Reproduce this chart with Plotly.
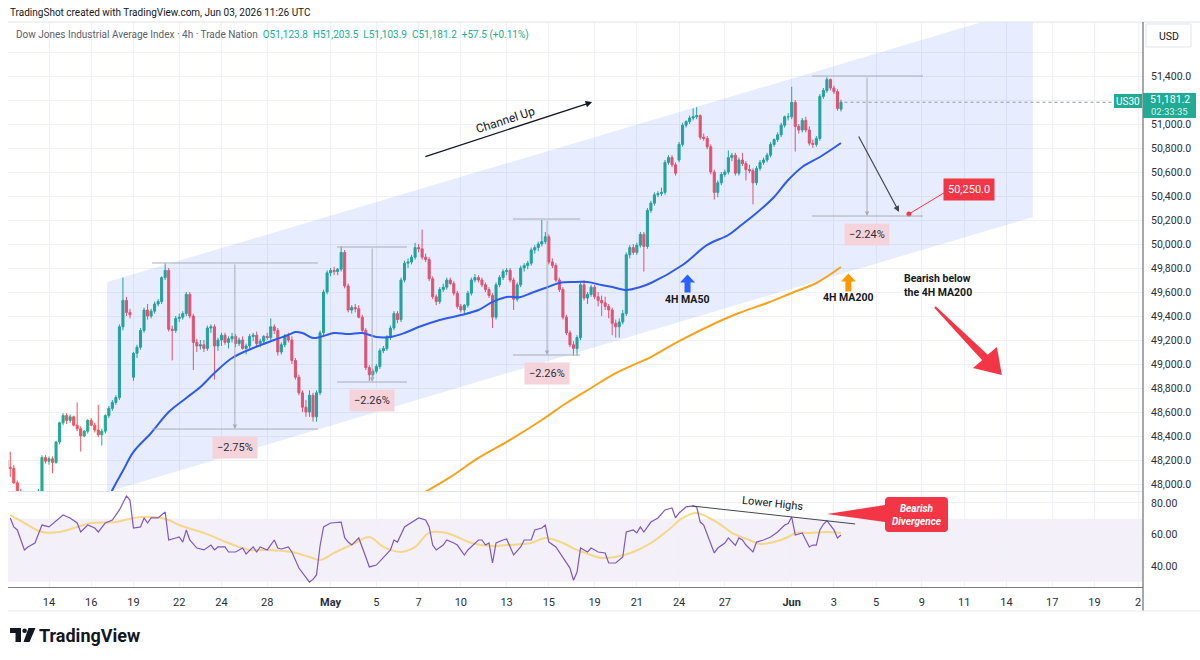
import plotly.graph_objects as go

# ============================ DATA ============================
FIRST_BAR = 1  # bar index of the first 4h candle shown

OPEN = [48200, 48140, 48130, 48010, 47930, 47850, 47880, 47800, 47850, 47880,
        47940, 48220, 48190, 48210, 48180, 48350, 48510, 48570, 48530, 48560,
        48490, 48460, 48400, 48440, 48530, 48490, 48450, 48410, 48440, 48570,
        48630, 48680, 48720, 49310, 49530, 49430, 48890, 49090, 49140, 49280,
        49450, 49400, 49440, 49500, 49520, 49720, 49780, 49290, 49280, 49380,
        49390, 49420, 49580, 49400, 49180, 49150, 49160, 49130, 49300, 49310,
        49150, 49200, 49240, 49180, 49210, 49230, 49170, 49200, 49130, 49150,
        49230, 49240, 49170, 49190, 49230, 49220, 49310, 49280, 49100, 49160,
        49230, 49200, 49030, 48890, 48760, 48640, 48600, 48740, 48560, 48760,
        49260, 49600, 49760, 49780, 49770, 49790, 49930, 49650, 49450, 49470,
        49460, 49390, 49280, 48970, 48910, 48940, 48980, 49110, 49130, 49220,
        49300, 49420, 49370, 49700, 49840, 49850, 49890, 49970, 49960, 49890,
        49870, 49710, 49560, 49520, 49620, 49640, 49700, 49670, 49590, 49480,
        49450, 49490, 49590, 49700, 49720, 49700, 49660, 49620, 49570, 49390,
        49660, 49720, 49770, 49780, 49700, 49540, 49660, 49800, 49820, 49840,
        49950, 49970, 50000, 50020, 50060, 49850, 49820, 49700, 49620, 49390,
        49260, 49160, 49130, 49220, 49660, 49550, 49580, 49640, 49560, 49530,
        49510, 49480, 49450, 49340, 49310, 49350, 49420, 49910, 49970, 49930,
        49990, 50080, 49980, 50280, 50340, 50410, 50420, 50430, 50680, 50720,
        50660, 50700, 50830, 50990, 51020, 51050, 51060, 51070, 50890, 50880,
        50810, 50600, 50430, 50510, 50580, 50600, 50720, 50740, 50590, 50700,
        50670, 50620, 50610, 50510, 50630, 50680, 50700, 50740, 50830, 50870,
        50910, 50990, 51060, 51060, 51180, 50980, 50950, 51030, 50950, 50840,
        50830, 50880, 51230, 51280, 51370, 51300, 51270, 51123.8]

HIGH = [48230, 48270, 48160, 48030, 47960, 47900, 47920, 47870, 47900, 47960,
        48240, 48240, 48230, 48230, 48360, 48520, 48590, 48590, 48580, 48570,
        48680, 48480, 48450, 48540, 48550, 48510, 48660, 48460, 48580, 48650,
        48700, 48740, 49330, 49720, 49560, 49460, 49100, 49160, 49300, 49470,
        49500, 49460, 49520, 49540, 49730, 49840, 49800, 49320, 49400, 49420,
        49440, 49600, 49600, 49420, 49210, 49200, 49200, 49320, 49330, 49330,
        49220, 49260, 49260, 49230, 49260, 49250, 49220, 49230, 49170, 49250,
        49260, 49270, 49210, 49240, 49260, 49380, 49330, 49300, 49180, 49250,
        49260, 49230, 49050, 48910, 48780, 48700, 48780, 48760, 48780, 49280,
        49620, 49780, 49800, 49810, 49800, 49980, 49950, 49670, 49490, 49500,
        49490, 49410, 49300, 48990, 48960, 49000, 49130, 49150, 49240, 49320,
        49440, 49440, 49720, 49860, 49880, 49910, 50010, 50000, 50120, 49920,
        49890, 49730, 49580, 49640, 49670, 49720, 49720, 49690, 49610, 49500,
        49500, 49610, 49720, 49750, 49740, 49720, 49680, 49640, 49590, 49680,
        49740, 49790, 49800, 49800, 49720, 49680, 49820, 49840, 49860, 49970,
        49990, 50020, 50200, 50100, 50080, 49880, 49840, 49720, 49640, 49410,
        49280, 49190, 49240, 49680, 49700, 49600, 49660, 49660, 49600, 49570,
        49560, 49500, 49470, 49370, 49380, 49450, 49930, 49990, 50000, 50010,
        50100, 50100, 50300, 50360, 50430, 50440, 50470, 50700, 50740, 50740,
        50680, 50850, 51010, 51030, 51070, 51130, 51140, 51080, 50920, 50900,
        50830, 50620, 50530, 50600, 50620, 50780, 50760, 50760, 50720, 50760,
        50690, 50660, 50630, 50650, 50700, 50720, 50760, 50850, 50880, 50930,
        51010, 51070, 51090, 51310, 51200, 51000, 51050, 51060, 50980, 50870,
        50900, 51250, 51300, 51390, 51380, 51320, 51290, 51203.5]

LOW = [48110, 48060, 48000, 47900, 47820, 47800, 47780, 47760, 47820, 47850,
       47920, 48170, 48160, 48090, 48170, 48330, 48490, 48500, 48510, 48480,
       48440, 48270, 48390, 48420, 48480, 48430, 48390, 48320, 48420, 48550,
       48610, 48660, 48700, 49280, 49400, 49380, 48860, 49050, 49120, 49260,
       49370, 49380, 49420, 49480, 49500, 49700, 49270, 49030, 49260, 49350,
       49370, 49400, 49380, 48950, 49100, 49120, 49100, 49110, 49260, 48870,
       49110, 49150, 49160, 49130, 49180, 49140, 49150, 49120, 49080, 49130,
       49190, 49150, 49140, 49170, 49200, 49200, 49250, 49070, 49080, 49140,
       49180, 49000, 48870, 48740, 48600, 48560, 48560, 48520, 48520, 48740,
       49240, 49580, 49730, 49740, 49740, 49770, 49630, 49430, 49420, 49430,
       49380, 49260, 48950, 48860, 48880, 48920, 48960, 49090, 49110, 49200,
       49280, 49340, 49350, 49680, 49800, 49830, 49870, 49930, 49870, 49850,
       49690, 49540, 49490, 49500, 49600, 49620, 49660, 49570, 49460, 49430,
       49420, 49470, 49570, 49680, 49680, 49640, 49600, 49550, 49300, 49370,
       49640, 49700, 49740, 49680, 49450, 49520, 49640, 49770, 49790, 49820,
       49920, 49940, 49980, 50000, 49830, 49800, 49680, 49600, 49370, 49240,
       49140, 49070, 49070, 49200, 49530, 49500, 49560, 49540, 49480, 49400,
       49450, 49380, 49240, 49220, 49220, 49330, 49400, 49880, 49910, 49910,
       49970, 49770, 49960, 50260, 50320, 50390, 50400, 50410, 50660, 50640,
       50570, 50680, 50810, 50970, 51000, 51030, 51040, 50870, 50860, 50790,
       50580, 50370, 50390, 50490, 50560, 50580, 50690, 50570, 50570, 50650,
       50530, 50590, 50330, 50490, 50610, 50660, 50680, 50720, 50810, 50850,
       50890, 50970, 51030, 51040, 50770, 50920, 50930, 50930, 50820, 50800,
       50810, 50860, 51210, 51260, 51280, 51250, 51110, 51103.9]

CLOSE = [48140, 48130, 48010, 47930, 47850, 47880, 47800, 47850, 47880, 47940,
         48220, 48190, 48210, 48180, 48350, 48510, 48570, 48530, 48560, 48490,
         48460, 48400, 48440, 48530, 48490, 48450, 48410, 48440, 48570, 48630,
         48680, 48720, 49310, 49530, 49430, 49410, 49090, 49140, 49280, 49450,
         49400, 49440, 49500, 49520, 49720, 49780, 49290, 49280, 49380, 49390,
         49420, 49580, 49400, 49180, 49150, 49160, 49130, 49300, 49310, 49150,
         49200, 49240, 49180, 49210, 49230, 49170, 49200, 49130, 49150, 49230,
         49240, 49170, 49190, 49230, 49220, 49310, 49280, 49100, 49160, 49230,
         49200, 49030, 48890, 48760, 48640, 48600, 48740, 48560, 48760, 49260,
         49600, 49760, 49780, 49770, 49790, 49930, 49650, 49450, 49470, 49460,
         49390, 49280, 48970, 48910, 48940, 48980, 49110, 49130, 49220, 49300,
         49420, 49370, 49700, 49840, 49850, 49890, 49970, 49960, 49890, 49870,
         49710, 49560, 49520, 49620, 49640, 49700, 49670, 49590, 49480, 49450,
         49490, 49590, 49700, 49720, 49700, 49660, 49620, 49570, 49390, 49660,
         49720, 49770, 49780, 49700, 49540, 49660, 49800, 49820, 49840, 49950,
         49970, 50000, 50020, 50060, 49850, 49820, 49700, 49620, 49390, 49260,
         49160, 49130, 49220, 49660, 49550, 49580, 49640, 49560, 49530, 49510,
         49480, 49450, 49340, 49310, 49350, 49420, 49910, 49970, 49930, 49990,
         50080, 49980, 50280, 50340, 50410, 50420, 50430, 50680, 50720, 50660,
         50590, 50830, 50990, 51020, 51050, 51060, 51070, 50890, 50880, 50810,
         50600, 50430, 50510, 50580, 50600, 50720, 50740, 50590, 50700, 50670,
         50620, 50610, 50510, 50630, 50680, 50700, 50740, 50830, 50870, 50910,
         50990, 51060, 51060, 51180, 50980, 50950, 51030, 50950, 50840, 50830,
         50880, 51230, 51280, 51370, 51300, 51270, 51130, 51181.2]

MA50_X = [30, 31, 34, 37, 42, 47, 52, 56, 60, 65, 71, 77, 81, 83, 85, 88, 90, 94, 98, 102,
          106, 110, 114, 118, 124, 130, 135, 139, 143, 147, 150, 154, 158, 162, 166, 170,
          173, 177, 181, 184, 193, 200, 206, 209, 214, 219, 223, 227, 232, 238]
MA50_Y = [47870, 47950, 48110, 48267, 48425, 48600, 48717, 48808, 48925, 49050, 49133, 49200,
          49242, 49267, 49258, 49217, 49225, 49258, 49250, 49258, 49225, 49225, 49258, 49308,
          49367, 49408, 49450, 49517, 49558, 49558, 49592, 49633, 49675, 49683, 49683, 49658,
          49642, 49617, 49642, 49675, 49825, 49992, 50075, 50142, 50258, 50392, 50533, 50642,
          50725, 50842]

MA200_X = [119, 127, 135, 144, 153, 160, 167, 173, 179, 184, 192, 203, 209, 217, 224, 231, 238]
MA200_Y = [47920, 48058, 48217, 48367, 48533, 48675, 48800, 48908, 48992, 49058, 49190, 49350,
           49425, 49508, 49592, 49675, 49808]

RSI_X = [2, 3, 4, 6, 7, 9, 11, 13, 17, 19, 21, 22, 24, 26, 27, 29, 31, 33, 35, 36, 37, 39, 40,
         41, 42, 44, 46, 47, 49, 50, 51, 52, 53, 55, 57, 59, 60, 61, 63, 64, 66, 68, 69, 71,
         72, 73, 75, 77, 78, 79, 81, 82, 84, 85, 86, 87, 88, 89, 90, 91, 93, 96, 97, 98, 99,
         101, 103, 104, 106, 108, 110, 111, 112, 114, 116, 118, 120, 121, 122, 123, 125, 126,
         128, 129, 131, 132, 135, 136, 137, 138, 139, 140, 142, 143, 145, 147, 148, 150, 151,
         153, 154, 155, 157, 159, 161, 162, 163, 164, 166, 167, 169, 171, 172, 174, 176, 177,
         179, 180, 181, 182, 184, 185, 186, 188, 190, 191, 192, 194, 196, 197, 198, 199, 201,
         202, 203, 205, 206, 208, 209, 210, 211, 213, 214, 216, 218, 220, 222, 223, 224, 225,
         227, 229, 230, 231, 232, 233, 234, 235, 236, 237, 238]
RSI_Y = [70.5, 64.8, 62.9, 50.2, 52.1, 54.6, 66, 64.8, 72.4, 70.5, 67.3, 61.6, 66, 64.1, 61.6,
         67.3, 69.2, 75.6, 84.4, 81.9, 64.1, 64.8, 70.5, 67.3, 70.5, 70.5, 74.3, 56.5, 57.8,
         58.4, 55.2, 62.9, 56.5, 51.4, 50.2, 53.3, 50.2, 52.1, 52.1, 48.9, 48.9, 51.4, 47.6,
         52.1, 48.9, 52.1, 50.2, 56.5, 51.4, 50.8, 52.1, 48.9, 38.7, 35.6, 33, 29.8, 31.5,
         34.3, 52.7, 64.8, 67.3, 67.9, 58, 55.2, 53.3, 57.8, 45.7, 39.4, 40.6, 45.1, 50.2,
         56.5, 55.2, 64.8, 67.9, 70.5, 69.2, 64.8, 53.3, 50.2, 53.3, 56.5, 54.6, 53.3, 47,
         50.2, 56.5, 56.5, 53.3, 54.6, 41.9, 54.6, 56.5, 57.2, 47, 52.1, 56.5, 56.5, 62.9,
         64.1, 66, 55.2, 52.1, 45.7, 38.7, 31, 36, 51.4, 48.9, 51.4, 48.9, 48.3, 41.9, 41.9,
         45.7, 61.6, 62.9, 61, 64.8, 61.6, 67.9, 69.2, 70.5, 75.6, 76.8, 70.5, 73.7, 77.5,
         78.2, 77.5, 67.9, 66, 55, 48.3, 51.4, 54.6, 57.8, 53, 57.8, 56.5, 53.3, 48.9, 55.2,
         56.5, 58.4, 61.6, 66, 67, 71.1, 59.7, 61, 52.1, 53.3, 53.3, 62.9, 66.5, 68.8, 66,
         62.9, 57.8, 59.7]

RSIMA_X = [2, 6, 11, 16, 21, 25, 32, 37, 43, 47, 50, 57, 64, 70, 75, 82, 87, 90, 94, 100, 104,
           108, 113, 117, 121, 126, 129, 133, 139, 143, 150, 154, 159, 163, 167, 170, 174, 179,
           184, 189, 193, 197, 200, 204, 207, 212, 215, 219, 223, 225, 229, 234, 238]
RSIMA_Y = [72.4, 67.3, 61.6, 61.6, 64.8, 67.3, 67.9, 70.5, 71.1, 69.2, 66, 61, 54.6, 50.2, 50.2,
           48.9, 45.7, 43.8, 48.3, 54.6, 58.4, 52.1, 48.9, 52.1, 61, 61, 58.4, 54.6, 52.7, 53.3,
           54.6, 57.8, 54.6, 50.2, 47, 45.1, 45.7, 48.9, 54.6, 62.9, 70.5, 73.7, 71.1, 66, 61,
           56.5, 54, 55.2, 58.4, 61, 61, 61.6, 61]

TICK_POS = [13, 25, 37, 50, 62, 75, 93, 106, 118, 130, 143, 155, 168, 180, 192, 205, 224,
            236, 248, 261, 273, 285, 298, 310, 322.4]
TICK_TEXT = ["14", "16", "19", "22", "24", "28", "<b>May</b>", "5", "7", "10", "13", "15",
             "19", "21", "24", "27", "<b>Jun</b>", "3", "5", "9", "11", "14", "17", "19", "2"]
PRICE_TICKS = list(range(48000, 51601, 200))
RSI_TICKS = [40, 60, 80]

LAST_PRICE = 51181.2
TARGET = 50250.0
# =============================================================

assert len(OPEN) == len(HIGH) == len(LOW) == len(CLOSE)
BARS = list(range(FIRST_BAR, FIRST_BAR + len(CLOSE)))

W, H = 1200, 660
PL, PR = 8, 1143
PT, PB_PRICE = 22, 491
PT_RSI, PB = 492, 587
X_RANGE = [1.35, 323.8]
Y_RANGE = [47941.7, 51850.0]
RSI_RANGE = [26.67, 86.98]
PX_PER_BAR = (PR - PL) / (X_RANGE[1] - X_RANGE[0])
PRICE_PER_PX = (Y_RANGE[1] - Y_RANGE[0]) / (PB_PRICE - PT)


def fx(px):
    return px / W


def fy(py):
    return 1 - py / H


UP, DN = "#22AB94", "#F7525F"
GRID = "#EFF1F6"
TXT = "#131722"
FONT = "Roboto"

fig = go.Figure()

# parallel channel
CH = [(29.5, 49683), (292.5, 51975), (292.5, 50225), (29.5, 47933)]
fig.add_trace(go.Scatter(x=[p[0] for p in CH] + [CH[0][0]], y=[p[1] for p in CH] + [CH[0][1]],
                         mode="lines", fill="toself", fillcolor="rgba(41,98,255,0.115)",
                         line=dict(width=0), hoverinfo="skip", xaxis="x", yaxis="y"))

fig.add_trace(go.Scatter(x=MA200_X, y=MA200_Y, mode="lines", line=dict(color="#F7A21B", width=2, shape="spline"),
                         hoverinfo="skip", xaxis="x", yaxis="y"))
fig.add_trace(go.Scatter(x=MA50_X, y=MA50_Y, mode="lines", line=dict(color="#2E5BEA", width=2, shape="spline"),
                         hoverinfo="skip", xaxis="x", yaxis="y"))

fig.add_trace(go.Candlestick(x=BARS, open=OPEN, high=HIGH, low=LOW, close=CLOSE,
                             increasing=dict(line=dict(color=UP, width=1), fillcolor=UP),
                             decreasing=dict(line=dict(color=DN, width=1), fillcolor=DN),
                             whiskerwidth=0, hoverinfo="skip", xaxis="x", yaxis="y"))

# RSI
fig.add_trace(go.Scatter(x=RSIMA_X, y=RSIMA_Y, mode="lines",
                         line=dict(color="rgba(245,205,100,0.75)", width=2, shape="spline"),
                         hoverinfo="skip", xaxis="x", yaxis="y2"))
fig.add_trace(go.Scatter(x=RSI_X, y=RSI_Y, mode="lines", line=dict(color="#7E57C2", width=1.2),
                         hoverinfo="skip", xaxis="x", yaxis="y2"))

shapes = []
anns = []


def note(x, y, text, xref="x", yref="y", xanchor="center", yanchor="middle", **kw):
    d = dict(x=x, y=y, xref=xref, yref=yref, text=text, showarrow=False,
             xanchor=xanchor, yanchor=yanchor)
    d.update(kw)
    anns.append(d)


def arrow(x, y, ax, ay, yref="y", **kw):
    d = dict(x=x, y=y, ax=ax, ay=ay, xref="x", yref=yref, axref="x", ayref=yref,
             text="", showarrow=True)
    d.update(kw)
    anns.append(d)


# RSI band
shapes.append(dict(type="rect", xref="x domain", yref="y2", x0=0, x1=1, y0=30, y1=70,
                   fillcolor="rgba(126,87,194,0.09)", line=dict(width=0), layer="below"))

# measurement tools
MEAS = [(42.3, 89.4, 65.8, 49842, 48458, 48308, "−2.75%"),
        (94.8, 114.7, 104.8, 49975, 48850, 48700, "−2.26%"),
        (144.8, 163.9, 154.5, 50208, 49075, 48917, "−2.26%"),
        (229.8, 261.3, 245.4, 51400, 50233, 50083, "−2.24%")]
for x0, x1, xv, ptop, pbot, plab, lab in MEAS:
    for p in (ptop, pbot):
        shapes.append(dict(type="line", xref="x", yref="y", x0=x0, x1=x1, y0=p, y1=p,
                           line=dict(color="#A9ACB5", width=1)))
    arrow(xv, pbot, xv, ptop, arrowhead=2, arrowsize=0.9, arrowwidth=1, arrowcolor="#A9ACB5")
    note(xv, plab, lab, bgcolor="#F5D3DB", borderpad=4,
         font=dict(size=11, color="#2A2E39", family=FONT))

# Channel Up arrow + text
arrow(167.3, 51183, 119.5, 50725, arrowhead=2, arrowsize=1, arrowwidth=1.3, arrowcolor="#131722")
note(142.8, 51030, "Channel Up", textangle=-18, font=dict(size=12, color=TXT, family=FONT))

# projection arrow, target dot and label
arrow(254.5, 50267, 242.8, 50908, arrowhead=2, arrowsize=1, arrowwidth=1.2, arrowcolor="#434651")
shapes.append(dict(type="line", xref="x", yref="y", x0=257.3, y0=TARGET, x1=267.5, y1=50430,
                   line=dict(color="#F23645", width=1)))
fig.add_trace(go.Scatter(x=[257.3], y=[TARGET], mode="markers", marker=dict(color="#F23645", size=5),
                         hoverinfo="skip", xaxis="x", yaxis="y"))
note(274.4, 50458, f"{TARGET:,.1f}", bgcolor="#F23645", borderpad=4,
     font=dict(size=11, color="white", family=FONT))


def up_arrow(cx, cy, w=15, h=18, sw=6, hh=8):
    pts = [(0, -h / 2), (w / 2, -h / 2 + hh), (sw / 2, -h / 2 + hh), (sw / 2, h / 2),
           (-sw / 2, h / 2), (-sw / 2, -h / 2 + hh), (-w / 2, -h / 2 + hh)]
    return "M " + " L ".join(f"{cx + ox / PX_PER_BAR:.3f},{cy - oy * PRICE_PER_PX:.2f}" for ox, oy in pts) + " Z"


shapes.append(dict(type="path", xref="x", yref="y", path=up_arrow(194.4, 49671),
                   fillcolor="#2962FF", line=dict(width=0)))
shapes.append(dict(type="path", xref="x", yref="y", path=up_arrow(240.1, 49679),
                   fillcolor="#FF9800", line=dict(width=0)))
note(194.3, 49538, "<b>4H MA50</b>", font=dict(size=10.5, color=TXT, family=FONT))
note(240.0, 49552, "<b>4H MA200</b>", font=dict(size=10.5, color=TXT, family=FONT))
note(255.4, 49652, "<b>Bearish below<br>the 4H MA200</b>", xanchor="left", align="left",
     font=dict(size=10.5, color=TXT, family=FONT))

# big red arrow
RED_ARROW = [(264.9, 49481), (279.7, 49077), (282.3, 49142), (283.7, 48908),
             (275.5, 48967), (278.1, 49031), (264.5, 49469)]
shapes.append(dict(type="path", xref="x", yref="y",
                   path="M " + " L ".join(f"{a},{b}" for a, b in RED_ARROW) + " Z",
                   fillcolor="#F23645", line=dict(width=0)))

# last price line
shapes.append(dict(type="line", xref="x", yref="y", x0=239, x1=X_RANGE[1], y0=LAST_PRICE, y1=LAST_PRICE,
                   line=dict(color="#9598A1", width=1, dash="dot")))

# RSI annotations
shapes.append(dict(type="line", xref="x", yref="y2", x0=195.7, y0=78.1, x1=242, y1=66.7,
                   line=dict(color="#434651", width=1)))
note(218.7, 79.6, "Lower Highs", yref="y2", textangle=6, font=dict(size=11, color=TXT, family=FONT))
bx0, bx1, by0, by1 = 250.5, 268.4, 61.6, 83.8
rx, ry = 4 / PX_PER_BAR, 4 * 0.635
callout = (f"M {bx0 + rx},{by1} L {bx1 - rx},{by1} Q {bx1},{by1} {bx1},{by1 - ry} "
           f"L {bx1},{by0 + ry} Q {bx1},{by0} {bx1 - rx},{by0} L {bx0 + rx},{by0} "
           f"Q {bx0},{by0} {bx0},{by0 + ry} L {bx0},67.9 L 234.0,73.0 L {bx0},78.7 "
           f"L {bx0},{by1 - ry} Q {bx0},{by1} {bx0 + rx},{by1} Z")
shapes.append(dict(type="path", xref="x", yref="y2", path=callout, fillcolor="#F23645", line=dict(width=0)))
note(259.6, 72.6, "<b><i>Bearish<br>Divergence</i></b>", yref="y2",
     font=dict(size=10, color="white", family=FONT))

# frame lines
shapes.append(dict(type="line", xref="paper", yref="paper", x0=fx(PL), x1=1, y0=fy(PT), y1=fy(PT),
                   line=dict(color="#E0E3EB", width=1)))
shapes.append(dict(type="line", xref="paper", yref="paper", x0=fx(PL), x1=fx(PR), y0=fy(491.5), y1=fy(491.5),
                   line=dict(color="#E0E3EB", width=1)))
shapes.append(dict(type="line", xref="paper", yref="paper", x0=fx(PR), x1=fx(PR), y0=fy(611), y1=fy(PT),
                   line=dict(color="#50535E", width=1)))
shapes.append(dict(type="line", xref="paper", yref="paper", x0=fx(PL), x1=1, y0=fy(611), y1=fy(611),
                   line=dict(color="#E9EBF0", width=1)))

P = dict(xref="paper", yref="paper")
# USD box
shapes.append(dict(type="rect", x0=fx(1146), x1=fx(1191), y0=fy(47), y1=fy(24),
                   fillcolor="white", line=dict(color="#E0E3EB", width=1), **P))
note(fx(1168.5), fy(36), "USD", font=dict(size=10.5, color=TXT, family=FONT), **P)
# price tags
shapes.append(dict(type="rect", x0=fx(1143), x1=fx(1196), y0=fy(118), y1=fy(93),
                   fillcolor=UP, line=dict(width=0), **P))
shapes.append(dict(type="rect", x0=fx(1114), x1=fx(1142), y0=fy(108), y1=fy(94),
                   fillcolor=UP, line=dict(width=0), **P))
note(fx(1128), fy(101), "US30", font=dict(size=10, color="white", family=FONT), **P)
note(fx(1169.5), fy(100), f"{LAST_PRICE:,.1f}", font=dict(size=10.5, color="white", family=FONT), **P)
note(fx(1169.5), fy(111.5), "02:33:35", font=dict(size=9.5, color="rgba(255,255,255,0.85)", family=FONT), **P)

# header
note(fx(8), fy(12), "TradingShot created with TradingView.com, Jun 03, 2026 11:26 UTC", xanchor="left",
     font=dict(size=10, color=TXT, family=FONT), **P)
note(fx(14), fy(35),
     ("Dow Jones Industrial Average Index · 4h · Trade Nation&nbsp;&nbsp;"
      "<span style='color:#22AB94'>O51,123.8&nbsp;&nbsp;H51,203.5&nbsp;&nbsp;L51,103.9&nbsp;&nbsp;"
      "C51,181.2&nbsp;&nbsp;+57.5 (+0.11%)</span>"),
     xanchor="left", font=dict(size=10, color="#5D606B", family=FONT), **P)

# TradingView logo
shapes.append(dict(type="rect", x0=fx(10), x1=fx(21), y0=fy(633), y1=fy(628),
                   fillcolor=TXT, line=dict(width=0), **P))
shapes.append(dict(type="rect", x0=fx(15.5), x1=fx(21), y0=fy(642), y1=fy(628),
                   fillcolor=TXT, line=dict(width=0), **P))
shapes.append(dict(type="circle", x0=fx(22.3), x1=fx(26.9), y0=fy(633), y1=fy(628.4),
                   fillcolor=TXT, line=dict(width=0), **P))
shapes.append(dict(type="path",
                   path=f"M {fx(28.5)},{fy(628)} L {fx(35.5)},{fy(628)} L {fx(29.5)},{fy(642)} L {fx(23.5)},{fy(642)} Z",
                   fillcolor=TXT, line=dict(width=0), **P))
note(fx(37), fy(635), "<b>TradingView</b>", xanchor="left",
     font=dict(size=18, color=TXT, family=FONT), **P)

price_text = ["" if v in (51200, 51600) else f"{v:,.1f}" for v in PRICE_TICKS]

fig.update_layout(
    width=W, height=H, margin=dict(l=0, r=0, t=0, b=0),
    paper_bgcolor="white", plot_bgcolor="white", showlegend=False,
    font=dict(family=FONT, size=11, color=TXT),
    boxgap=0.35, boxgroupgap=0.1,
    xaxis=dict(domain=[fx(PL), fx(PR)], range=X_RANGE, anchor="y2", tickvals=TICK_POS, ticktext=TICK_TEXT,
               showgrid=True, gridcolor=GRID, zeroline=False, showline=True, linecolor="#787B86",
               ticks="", tickfont=dict(size=11, color="#2A2E39"), ticklabelstandoff=5,
               rangeslider=dict(visible=False), fixedrange=True, automargin=False),
    yaxis=dict(domain=[fy(PB_PRICE), fy(PT)], range=Y_RANGE, side="right", anchor="x",
               tickvals=PRICE_TICKS, ticktext=price_text, showgrid=True, gridcolor=GRID, zeroline=False,
               showline=False, ticks="", ticklabelstandoff=7, tickfont=dict(size=10.5, color="#2A2E39"),
               fixedrange=True, automargin=False),
    yaxis2=dict(domain=[fy(PB), fy(PT_RSI)], range=RSI_RANGE, side="right", anchor="x",
                tickvals=RSI_TICKS, tickformat=".2f", showgrid=True, gridcolor=GRID, zeroline=False,
                showline=False, ticks="", ticklabelstandoff=7, tickfont=dict(size=10.5, color="#2A2E39"),
                fixedrange=True, automargin=False),
    shapes=shapes, annotations=anns,
)

fig.write_html("out.html")
